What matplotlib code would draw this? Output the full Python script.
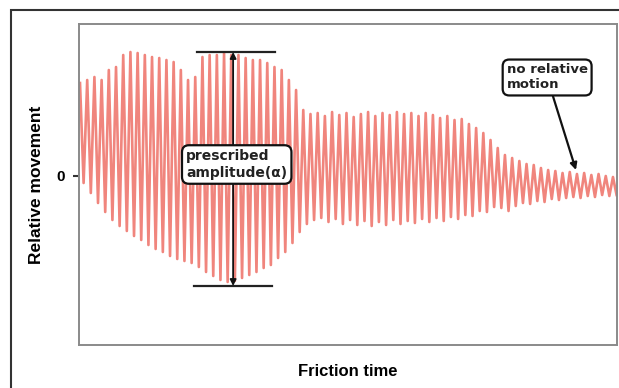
import numpy as np
import matplotlib.pyplot as plt
from matplotlib.patches import Rectangle

# peak displacement of each oscillation cycle (arbitrary units, 0 = rest position)
upper_peaks = [
    9.3, 9.6, 9.9, 9.6, 10.6, 10.9, 12.1, 12.4, 12.3, 12.1,
    11.9, 11.8, 11.6, 11.4, 10.6, 9.6, 9.9, 11.9, 12.1, 12.1,
    12.3, 12.1, 12.1, 11.8, 11.6, 11.6, 11.3, 10.9, 10.6, 9.6,
    8.6, 6.6, 6.2, 6.3, 6.0, 6.4, 6.1, 6.3, 5.9, 6.2,
    6.4, 6.0, 6.3, 6.1, 6.4, 6.2, 6.3, 6.0, 6.3, 6.1,
    5.8, 6.0, 5.6, 5.7, 5.2, 4.8, 4.3, 3.6, 2.8, 2.1,
    1.8, 1.5, 1.2, 1.1, 0.8, 0.6, 0.5, 0.3, 0.4, 0.2,
    0.3, 0.1, 0.2, 0.0, -0.1,
]
lower_peaks = [
    -0.7, -1.7, -2.7, -3.6, -4.4, -5.0, -5.5, -6.0, -6.4, -6.9,
    -7.3, -7.6, -8.0, -8.3, -8.5, -8.7, -9.1, -9.6, -10.0, -10.4,
    -10.6, -10.5, -10.2, -9.9, -9.6, -9.2, -8.9, -8.2, -7.6, -6.7,
    -5.6, -4.8, -4.4, -4.2, -4.6, -4.3, -4.8, -4.4, -4.9, -4.5,
    -5.0, -4.6, -4.9, -4.4, -4.8, -4.5, -4.7, -4.3, -4.6, -4.2,
    -4.5, -4.1, -4.3, -3.9, -4.0, -3.5, -3.6, -3.1, -3.2, -3.5,
    -3.0, -2.7, -2.8, -2.5, -2.6, -2.3, -2.4, -2.2, -2.1, -2.2,
    -2.0, -2.1, -1.9, -2.0, -1.9,
]
y_ticks = [0]
y_tick_labels = ["0"]

# prescribed amplitude markers
amp_top = 12.4
amp_bottom = -11.0

n = len(upper_peaks)
cycle = np.arange(n)
t = np.empty(2 * n)
y = np.empty(2 * n)
t[0::2] = cycle + 0.14
t[1::2] = cycle + 0.64
y[0::2] = upper_peaks
y[1::2] = lower_peaks

fig = plt.figure(figsize=(6.19, 3.88), dpi=100)
ax = fig.add_axes([79 / 619, 1 - 345 / 388, 538 / 619, 321 / 388])

ax.plot(t, y, color="#f0857d", lw=1.9)

ax.set_xlim(0, 74.7)
ax.set_ylim(-16.9, 15.2)
ax.set_xticks([])
ax.set_yticks(y_ticks)
ax.set_yticklabels(y_tick_labels, fontsize=11, fontweight="bold", family="Liberation Sans")
ax.tick_params(axis="y", length=4, width=1.5, color="#333333", pad=6)
for side in ax.spines.values():
    side.set_color("#8a8a8a")
    side.set_linewidth(1.4)

ax.set_ylabel("Relative movement", fontsize=12.5, fontweight="bold",
              family="Liberation Sans", labelpad=9)
ax.set_xlabel("Friction time", fontsize=12, fontweight="bold",
              family="Liberation Sans", labelpad=14)

# prescribed amplitude: horizontal bars and double arrow
ax.plot([16.4, 27.2], [amp_top, amp_top], color="#222222", lw=1.6)
ax.plot([16.0, 26.8], [amp_bottom, amp_bottom], color="#222222", lw=1.6)
ax.annotate("", xy=(21.4, amp_top), xytext=(21.4, amp_bottom),
            arrowprops=dict(arrowstyle="<|-|>", color="#111111", lw=1.3,
                            mutation_scale=9, shrinkA=0, shrinkB=0))

box = dict(boxstyle="round,pad=0.3,rounding_size=0.5", fc="white", ec="#111111", lw=1.6)
ax.text(21.9, 1.15, "prescribed\namplitude(α)", ha="center", va="center",
        multialignment="left", fontsize=10, fontweight="bold", color="#222222",
        bbox=box, zorder=5)

ax.annotate("no relative\nmotion", xy=(69.0, 0.6), xytext=(65.0, 9.85),
            ha="center", va="center", multialignment="left",
            fontsize=9.5, fontweight="bold", color="#222222", bbox=box,
            arrowprops=dict(arrowstyle="-|>", color="#111111", lw=1.6,
                            mutation_scale=10, shrinkA=0, shrinkB=0),
            zorder=5)

# outer panel border
fig.patches.append(Rectangle((11 / 619, -0.2), 1.2, 0.2 + 1 - 10 / 388,
                             transform=fig.transFigure, fill=False,
                             ec="#333333", lw=1.5))

fig.savefig("out.png", dpi=100)
